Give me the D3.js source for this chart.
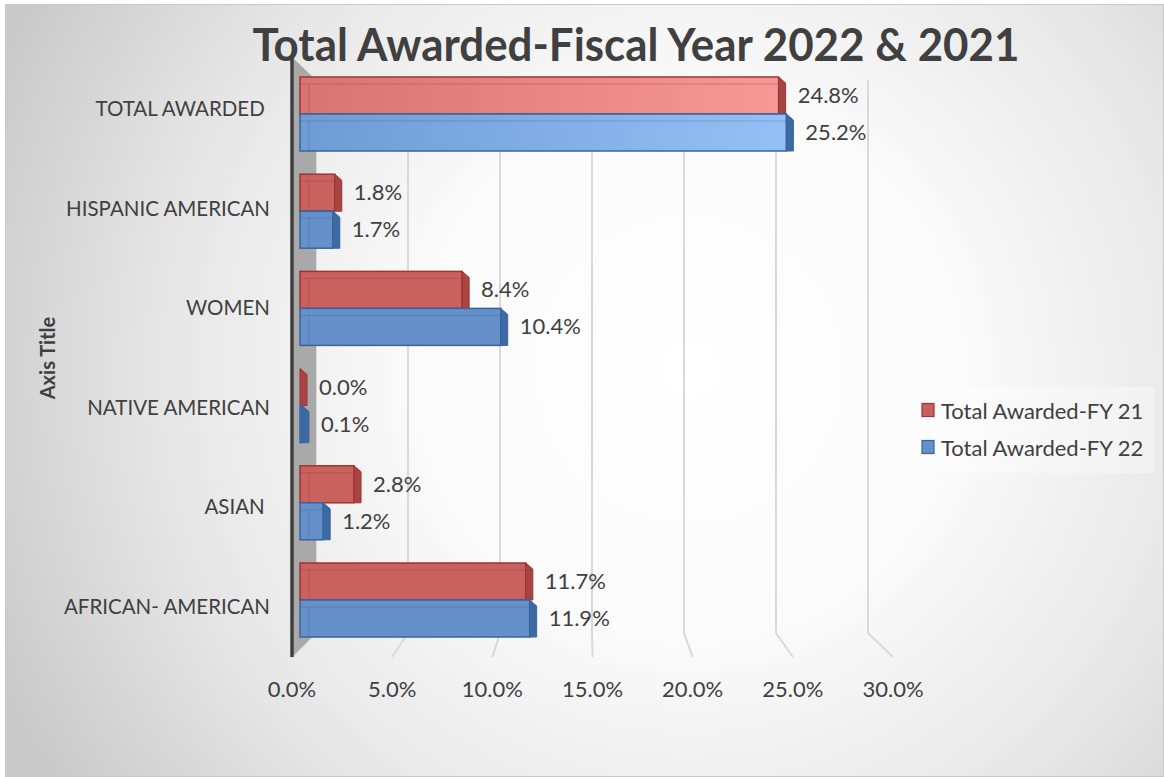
<!DOCTYPE html>
<html>
<head>
<meta charset="utf-8">
<script src="https://cdn.jsdelivr.net/npm/d3@7"></script>
<style>
    body { margin: 0; background: #ffffff; }
    text { font-family: Lato, "Open Sans", sans-serif; fill: #404040; }
</style>
</head>
<body>
<div id="chart"></div>
<script>
var categories = ["AFRICAN- AMERICAN", "ASIAN ", "NATIVE AMERICAN", "WOMEN", "HISPANIC AMERICAN", "TOTAL AWARDED "];
var seriesNames = ["Total Awarded-FY 21", "Total Awarded-FY 22"];
var fy21 = [11.7, 2.8, 0.0, 8.4, 1.8, 24.8];
var fy22 = [11.9, 1.2, 0.1, 10.4, 1.7, 25.2];
var xTicks = [0, 5, 10, 15, 20, 25, 30];

var W = 1164, H = 777;

var svg = d3.select("#chart")
    .append("svg")
    .attr("width", W)
    .attr("height", H);

var defs = svg.append("defs");

// Chart area background
var bg = defs.append("radialGradient")
    .attr("id", "bg")
    .attr("gradientUnits", "userSpaceOnUse")
    .attr("cx", 690).attr("cy", 370).attr("r", 760);
bg.append("stop").attr("offset", 0).attr("stop-color", "#ffffff");
bg.append("stop").attr("offset", 0.35).attr("stop-color", "#fbfbfb");
bg.append("stop").attr("offset", 0.7).attr("stop-color", "#e6e6e6");
bg.append("stop").attr("offset", 1).attr("stop-color", "#c9c9c9");

svg.append("rect")
    .attr("x", 5.5).attr("y", 4.5)
    .attr("width", W - 6).attr("height", H - 5)
    .attr("fill", "url(#bg)")
    .attr("stroke", "#c8c8c8");

// Scales: bars sit at mid depth, back wall and front edge of floor around them
var xBar = d3.scaleLinear().domain([0, 30]).range([300, 300 + 30 * 19.3]);
var xBack = d3.scaleLinear().domain([0, 30]).range([316, 868]);
var xFront = d3.scaleLinear().domain([0, 30]).range([292, 893]);
var yPair = d3.scalePoint().domain(categories).range([600, 114]);
var yLabel = d3.scalePoint().domain(categories).range([606, 108]);
var ySeries = d3.scaleBand().domain(seriesNames).range([-37, 37]);

var backTop = 80, backBottom = 633, frontY = 657;

// Gridlines on back wall + floor
var grid = svg.append("g");
grid.selectAll("path")
    .data(xTicks)
    .enter()
    .append("path")
    .attr("d", function (d) {
        return "M" + xBack(d) + "," + backTop +
            "L" + xBack(d) + "," + backBottom +
            "L" + xFront(d) + "," + frontY;
    })
    .attr("fill", "none")
    .attr("stroke", "#d9d9d9")
    .attr("stroke-width", 2);

// Side wall
svg.append("path")
    .attr("d", "M292,57L316," + backTop + "L316," + backBottom + "L292," + frontY + "Z")
    .attr("fill", "#a9a9a9");
svg.append("line")
    .attr("x1", 292).attr("x2", 292)
    .attr("y1", 57).attr("y2", frontY)
    .attr("stroke", "#3f3f3f")
    .attr("stroke-width", 3.5);

// Bar gradients
var colors = [
    { fill: "#c9625f", first: "#d87473", light: "#f79897", edge: "#9c3433", cap: "#a84543" },
    { fill: "#6690c9", first: "#6e9bd3", light: "#94c0f5", edge: "#37649f", cap: "#3e6aa3" }
];
colors.forEach(function (c, i) {
    var g = defs.append("linearGradient")
        .attr("id", "grad" + i)
        .attr("x1", 0).attr("x2", 1).attr("y1", 0).attr("y2", 0);
    g.append("stop").attr("offset", 0).attr("stop-color", c.first);
    g.append("stop").attr("offset", 1).attr("stop-color", c.light);
});

var rows = [];
categories.forEach(function (cat, i) {
    rows.push({ cat: cat, s: 0, v: fy21[i] });
    rows.push({ cat: cat, s: 1, v: fy22[i] });
});

var capW = 7;
var bars = svg.append("g")
    .selectAll("g")
    .data(rows)
    .enter()
    .append("g")
    .attr("transform", function (d) {
        return "translate(0," + (yPair(d.cat) + ySeries(seriesNames[d.s])) + ")";
    });

var bh = ySeries.bandwidth();

bars.append("rect")
    .attr("x", xBar(0))
    .attr("y", 0)
    .attr("width", function (d) { return xBar(d.v) - xBar(0); })
    .attr("height", bh)
    .attr("fill", function (d) {
        return d.cat === "TOTAL AWARDED " ? "url(#grad" + d.s + ")" : colors[d.s].fill;
    })
    .attr("stroke", function (d) { return colors[d.s].edge; })
    .attr("stroke-width", 1.5);

// 3d edges: top face line and left face line
bars.append("path")
    .attr("d", function (d) {
        var x0 = xBar(0), x1 = xBar(d.v);
        return "M" + x0 + "," + 7 + "L" + x1 + "," + 7 +
            (x1 - x0 > 12 ? "M" + (x0 + 9) + "," + 7 + "L" + (x0 + 9) + "," + bh : "");
    })
    .attr("stroke", function (d) { return colors[d.s].edge; })
    .attr("stroke-opacity", 0.35)
    .attr("fill", "none");

// End cap
bars.append("path")
    .attr("d", function (d) {
        var x1 = xBar(d.v);
        return "M" + x1 + ",0L" + (x1 + capW) + "," + 6 +
            "L" + (x1 + capW) + "," + bh + "L" + x1 + "," + bh + "Z";
    })
    .attr("fill", function (d) { return colors[d.s].cap; })
    .attr("stroke", function (d) { return colors[d.s].edge; })
    .attr("stroke-width", 1);

// Data labels
bars.append("text")
    .attr("x", function (d) { return xBar(d.v) + capW + 12; })
    .attr("y", bh / 2 - 1)
    .attr("dominant-baseline", "central")
    .style("font-size", "22px")
    .text(function (d) { return d.v.toFixed(1) + "%"; });

// Category labels
svg.append("g")
    .selectAll("text")
    .data(categories)
    .enter()
    .append("text")
    .attr("x", 270)
    .attr("y", function (d) { return yLabel(d); })
    .attr("text-anchor", "end")
    .attr("dominant-baseline", "central")
    .style("white-space", "pre")
    .style("font-size", "20.5px")
    .text(function (d) { return d; });

// X tick labels
svg.append("g")
    .selectAll("text")
    .data(xTicks)
    .enter()
    .append("text")
    .attr("x", function (d) { return xFront(d); })
    .attr("y", 688)
    .attr("text-anchor", "middle")
    .attr("dominant-baseline", "central")
    .style("font-size", "22px")
    .text(function (d) { return d.toFixed(1) + "%"; });

// Title
svg.append("text")
    .attr("x", 636)
    .attr("y", 61)
    .attr("text-anchor", "middle")
    .attr("textLength", 767)
    .attr("lengthAdjust", "spacingAndGlyphs")
    .style("font-size", "46px")
    .style("font-weight", "bold")
    .text("Total Awarded-Fiscal Year 2022 & 2021");

// Axis title
svg.append("text")
    .attr("transform", "translate(47,358) rotate(-90)")
    .attr("text-anchor", "middle")
    .attr("dominant-baseline", "central")
    .style("font-size", "20px")
    .style("font-weight", "bold")
    .text("Axis Title");

// Legend
var legend = svg.append("g");
legend.append("rect")
    .attr("x", 908).attr("y", 387)
    .attr("width", 247).attr("height", 86)
    .attr("fill", "#ffffff")
    .attr("fill-opacity", 0.35);

var items = legend.selectAll("g")
    .data(seriesNames)
    .enter()
    .append("g")
    .attr("transform", function (d, i) { return "translate(922," + (410 + i * 37) + ")"; });
items.append("rect")
    .attr("x", 0).attr("y", -6.5)
    .attr("width", 12).attr("height", 13)
    .attr("fill", function (d, i) { return colors[i].fill; })
    .attr("stroke", function (d, i) { return colors[i].edge; })
    .attr("stroke-width", 1.2);
items.append("text")
    .attr("x", 19)
    .attr("y", 0)
    .attr("dominant-baseline", "central")
    .style("font-size", "22px")
    .text(function (d) { return d; });
</script>
</body>
</html>
